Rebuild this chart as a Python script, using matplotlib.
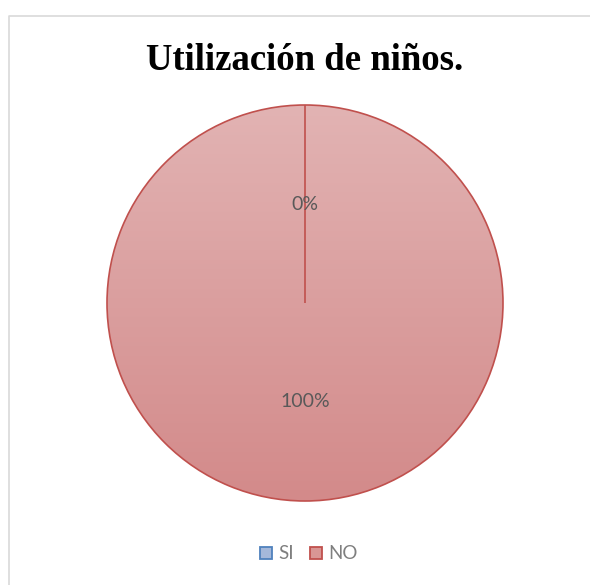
import matplotlib.pyplot as plt
import numpy as np
from matplotlib.patches import Rectangle

labels = ["SI", "NO"]
values = [0, 100]
title = "Utilización de niños."

W, H = 590, 585
fig = plt.figure(figsize=(W / 100, H / 100), dpi=100)

# chart frame
frame = fig.add_axes([0, 0, 1, 1])
frame.set_xlim(0, W)
frame.set_ylim(H, 0)
frame.axis("off")
frame.plot([8.5, 8.5, W + 2], [H + 2, 15.5, 15.5], color="#d9d9d9", lw=1.2)

fig.text(305 / W, 1 - 60 / H, title, ha="center", va="center",
         fontsize=26.5, fontweight="bold", family="Liberation Serif")

# pie
cx, cy, r = 305, 303, 198
ax = fig.add_axes([(cx - r) / W, (H - cy - r) / H, 2 * r / W, 2 * r / H])
wedges, texts, autotexts = ax.pie(
    values, startangle=90, counterclock=False, radius=1,
    autopct="%1.0f%%", pctdistance=0.5,
    colors=["#a5b8da", "none"],
    wedgeprops=dict(edgecolor="#c0504d", linewidth=1.2),
    textprops=dict(color="#595959", fontsize=14, family="Lato"))

# gradient fill for NO slice
grad = np.linspace(0, 1, 256).reshape(-1, 1)
top = np.array([0xe2, 0xb3, 0xb3]) / 255
bot = np.array([0xd3, 0x8a, 0x8a]) / 255
img = top + (bot - top) * grad[:, :, None]
im = ax.imshow(img, extent=[-1, 1, -1, 1], origin="upper", zorder=0.5, aspect="auto")
im.set_clip_path(wedges[1])
for w in wedges:
    w.set_zorder(1)
for t in autotexts:
    t.set_zorder(3)
ax.set_xlim(-1, 1)
ax.set_ylim(-1, 1)

# legend
leg_colors = [("#a5b8da", "#4f81bd"), ("#d99694", "#c0504d")]
lx = [260, 310]
for (fc, ec), x, lab in zip(leg_colors, lx, labels):
    frame.add_patch(Rectangle((x, 547), 12, 12, facecolor=fc, edgecolor=ec, lw=1.3))
    frame.text(x + 18, 553.5, lab, va="center", ha="left", color="#7f7f7f",
               fontsize=13.5, family="Lato")

fig.savefig("out.png", dpi=100)
